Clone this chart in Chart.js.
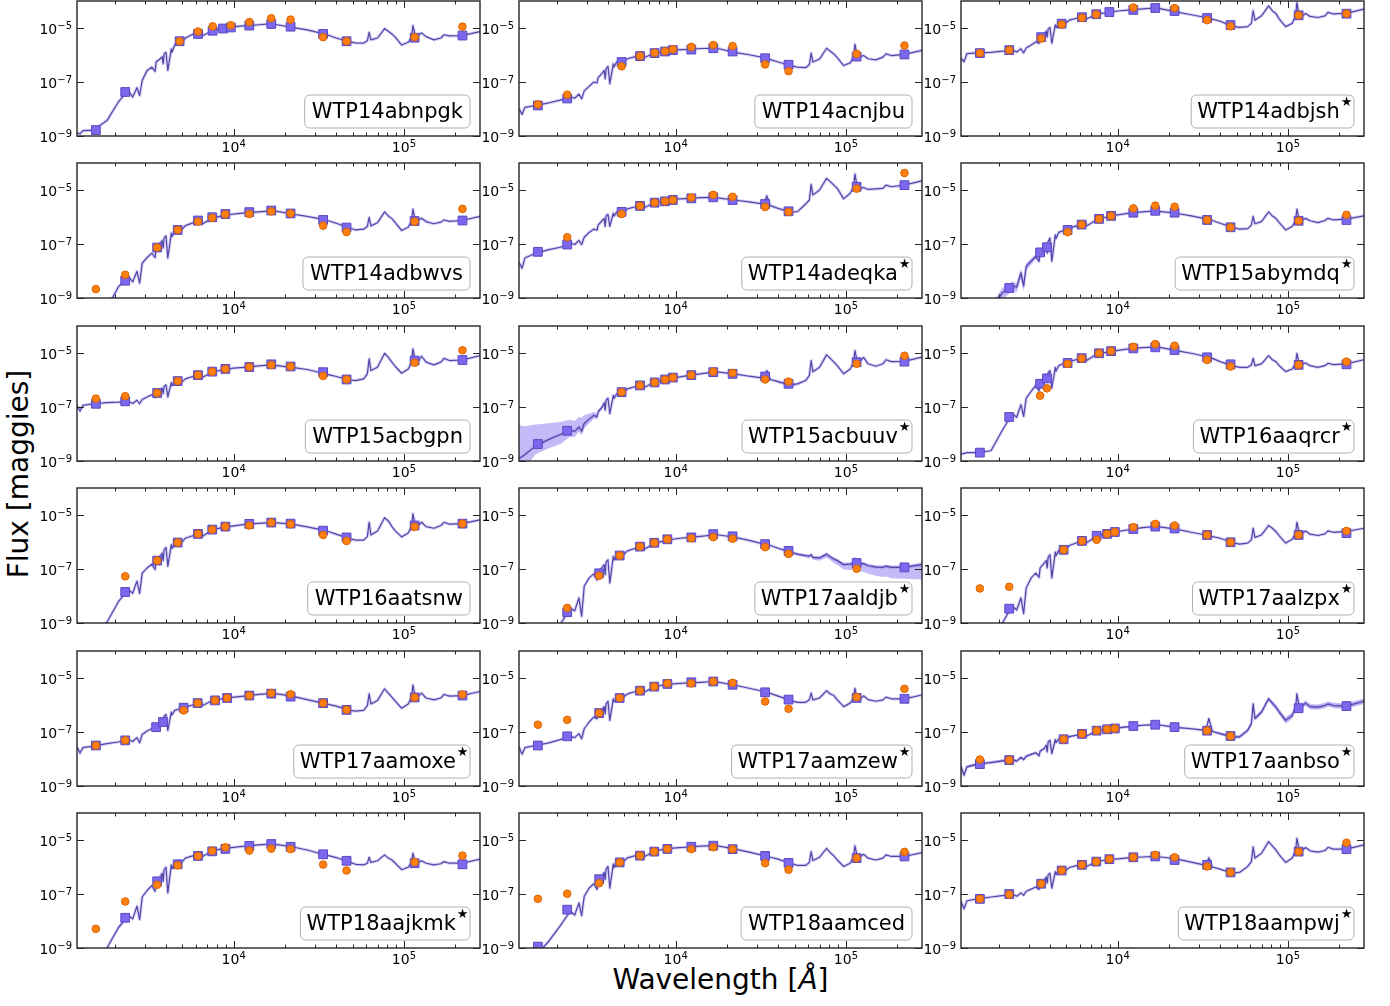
<!DOCTYPE html>
<html>
<head>
<meta charset="utf-8">
<title>SED fits</title>
<script src="https://cdn.jsdelivr.net/npm/chart.js@4.4.1/dist/chart.umd.min.js"></script>
<style>
  html, body { margin: 0; padding: 0; background: #fff; }
  #figure { position: relative; width: 1390px; height: 1006px; overflow: hidden; font-family: 'DejaVu Sans', sans-serif; }
  #figure canvas { position: absolute; }
  .axis-title { position: absolute; font-size: 28px; line-height: 1; white-space: nowrap; color: #000; }
  #ylab { left: 19px; top: 474px; transform: translate(-50%, -50%) rotate(-90deg); }
  #xlab { left: 720.5px; top: 966px; transform: translateX(-50%); }
</style>
</head>
<body>
<div id="figure">
  <div class="axis-title" id="ylab">Flux [maggies]</div>
  <div class="axis-title" id="xlab">Wavelength [<i>Å</i>]</div>
</div>
<script>
// ============================================================
// Data: wavelengths in Angstrom, fluxes as log10(maggies)
// ============================================================

// model spectrum wavelength grid (UV / 4000A break / optical-NIR / mid-IR)
const WAVE = [
  1200, 1250, 1300, 1500, 1800, 2100, 2400, 2550, 2700, 2800, 2900,
  3100, 3300, 3450, 3500, 3700, 3800, 3850, 3900, 4000, 4100, 4300, 4340, 4500, 4800, 4900,
  5200, 5800, 5900, 6500, 6563, 7500, 8500, 10000, 12000, 14000, 16500, 18000, 22000, 27000, 33000, 34300, 36000,
  40000, 47000, 52000, 58000, 61000, 62500, 64000, 70000, 77000, 81000, 85000, 89000, 97000, 106000,
  111000, 113000, 116000, 122000, 127000, 135000, 150000, 165000, 172000, 185000, 220000, 280000
];

// filter sets: GALEX FUV/NUV, optical, 2MASS JHKs, WISE W1-W4
const BANDS_PS1  = [1549, 2304, 3551, 4810, 6170, 7520, 8660, 9620, 12350, 16620, 21590, 33526, 46028, 115608, 220883];
const BANDS_SDSS = [1549, 2304, 3551, 4686, 6166, 7480, 8932, 12350, 16620, 21590, 33526, 46028, 115608, 220883];
const BANDS_SM   = [1549, 2304, 3500, 3840, 5075, 6138, 7767, 9145, 12350, 16620, 21590, 33526, 46028, 115608, 220883];

const X_MAJOR_TICKS = [1e4, 1e5];
const X_MINOR_TICKS = [2000, 3000, 4000, 5000, 6000, 7000, 8000, 9000,
  20000, 30000, 40000, 50000, 60000, 70000, 80000, 90000, 200000];
const Y_MAJOR_TICKS = [1e-9, 1e-7, 1e-5];

// --- WTP14abnpgk
const specAbnpgk = [
  -8.88, -8.92, -8.80, -8.78, -8.43, -7.74, -7.31, -7.56, -7.21, -7.50, -6.94,
  -6.57, -6.45, -6.61, -6.26, -6.14, -6.06, -6.33, -5.96, -5.90, -6.57, -5.77, -5.90, -5.63, -5.49, -5.56,
  -5.37, -5.22, -5.29, -5.17, -5.29, -5.10, -5.04, -4.95, -4.91, -4.88, -4.85, -4.88, -4.98, -5.07, -5.20, -5.23, -5.27,
  -5.37, -5.50, -5.55, -5.56, -5.47, -5.16, -5.44, -5.37, -5.02, -5.12, -5.22, -5.34, -5.63, -5.53,
  -5.34, -4.91, -5.22, -5.26, -5.18, -5.32, -5.44, -5.37, -5.25, -5.29, -5.28, -5.13
];
const obsAbnpgk = [null, null, null, -5.49, -5.13, -4.94, null, -4.90, -4.78, -4.64, -4.69, -5.34, -5.49, -5.34, -4.95];
const modAbnpgk = [-8.78, -7.37, null, -5.49, -5.22, -5.10, -5.02, -4.98, -4.91, -4.85, -4.95, -5.22, -5.49, -5.36, -5.28];

// --- WTP14acnjbu
const specAcnjbu = [
  -7.98, -8.20, -7.94, -7.87, -7.77, -7.67, -7.55, -7.60, -7.45, -7.62, -7.33,
  -7.16, -7.00, -7.03, -6.84, -6.67, -6.57, -6.88, -6.51, -6.42, -7.06, -6.33, -6.44, -6.26, -6.20, -6.26,
  -6.14, -6.06, -6.11, -5.99, -6.09, -5.93, -5.88, -5.81, -5.79, -5.76, -5.75, -5.77, -5.90, -5.99, -6.10, -6.13, -6.17,
  -6.26, -6.39, -6.45, -6.47, -6.35, -5.93, -6.26, -6.15, -5.75, -5.86, -5.96, -6.10, -6.39, -6.29,
  -6.08, -5.61, -5.96, -6.06, -6.02, -6.14, -6.18, -6.08, -5.96, -6.02, -5.98, -5.83
];
const obsAcnjbu = [-7.83, -7.47, null, -6.42, -6.04, -5.92, -5.86, -5.79, -5.70, -5.63, -5.67, -6.35, -6.60, -5.96, -5.65];
const modAcnjbu = [-7.87, -7.61, null, -6.26, -6.04, -5.93, -5.87, -5.82, -5.80, -5.75, -5.87, -6.12, -6.36, -6.06, -5.98];

// --- WTP14adbjsh
const specAdbjsh = [
  -6.12, -6.25, -5.95, -5.92, -5.90, -5.86, -5.81, -5.89, -5.77, -5.92, -5.74,
  -5.63, -5.52, -5.57, -5.39, -5.23, -5.12, -5.34, -5.04, -4.98, -5.56, -4.88, -4.99, -4.83, -4.77, -4.84,
  -4.71, -4.63, -4.68, -4.57, -4.67, -4.48, -4.44, -4.37, -4.33, -4.29, -4.26, -4.29, -4.40, -4.51, -4.61, -4.64, -4.67,
  -4.75, -4.93, -4.98, -4.95, -4.83, -4.36, -4.71, -4.55, -4.18, -4.36, -4.46, -4.67, -4.95, -4.83,
  -4.55, -4.06, -4.52, -4.55, -4.46, -4.57, -4.61, -4.55, -4.42, -4.48, -4.46, -4.30
];
const obsAdbjsh = [-5.93, -5.82, -5.39, -4.87, -4.62, -4.50, null, -4.24, null, -4.26, -4.71, -4.94, -4.53, -4.47];
const modAdbjsh = [-5.93, -5.82, -5.34, -4.84, -4.60, -4.49, -4.41, -4.33, -4.26, -4.37, -4.63, -4.89, -4.53, -4.47];

// --- WTP14adbwvs
const specAdbwvs = [
  -10.4, -10.3, -10.2, -9.90, -9.37, -8.59, -8.20, -8.40, -8.01, -8.45, -7.71,
  -7.50, -7.34, -7.50, -7.15, -6.97, -6.87, -7.15, -6.78, -6.70, -7.52, -6.60, -6.73, -6.51, -6.43, -6.50,
  -6.32, -6.21, -6.28, -6.13, -6.25, -6.05, -5.96, -5.89, -5.84, -5.81, -5.77, -5.79, -5.89, -5.98, -6.08, -6.11, -6.14,
  -6.23, -6.39, -6.48, -6.45, -6.35, -6.01, -6.33, -6.21, -5.81, -5.96, -6.06, -6.21, -6.50, -6.38,
  -6.14, -5.71, -6.07, -6.11, -6.05, -6.17, -6.25, -6.19, -6.11, -6.16, -6.13, -5.98
];
const obsAdbwvs = [-8.67, -8.14, -7.13, -6.48, -6.17, -6.03, -5.90, -5.89, -5.79, -5.87, -6.32, -6.56, -6.17, -5.70];
const modAdbwvs = [null, -8.36, -7.13, -6.48, -6.13, -6.01, -5.89, -5.82, -5.76, -5.87, -6.11, -6.39, -6.15, -6.13];

// --- WTP14adeqka
const specAdeqka = [
  -7.68, -7.90, -7.52, -7.34, -7.21, -7.12, -6.97, -7.02, -6.87, -7.02, -6.75,
  -6.57, -6.45, -6.49, -6.30, -6.13, -6.05, -6.35, -5.96, -5.90, -6.35, -5.86, -5.97, -5.82, -5.77, -5.83,
  -5.70, -5.62, -5.67, -5.55, -5.65, -5.47, -5.42, -5.34, -5.31, -5.28, -5.27, -5.30, -5.37, -5.44, -5.52, -5.22, -5.58,
  -5.68, -5.82, -5.80, -5.52, -5.37, -4.79, -5.18, -5.00, -4.57, -4.69, -4.82, -4.94, -5.33, -5.12,
  -4.88, -4.41, -4.82, -4.94, -4.91, -4.98, -4.96, -4.94, -4.82, -4.88, -4.82, -4.66
];
const obsAdeqka = [null, -6.75, null, -5.89, -5.59, -5.47, -5.42, -5.37, -5.28, -5.18, -5.25, -5.63, -5.81, -4.95, -4.37];
const modAdeqka = [-7.29, -7.02, null, -5.81, -5.59, -5.47, -5.42, -5.37, -5.31, -5.27, -5.37, -5.52, -5.79, -4.88, -4.82];

// --- WTP15abymdq
const specAbymdq = [
  -10.3, -10.2, -10.1, -9.80, -9.40, -8.81, -8.54, -8.60, -8.07, -8.55, -7.83,
  -7.64, -7.46, -7.64, -7.30, -7.15, -7.03, -7.34, -6.91, -6.78, -7.64, -6.66, -6.80, -6.57, -6.50, -6.58,
  -6.41, -6.32, -6.39, -6.21, -6.33, -6.11, -6.01, -5.92, -5.85, -5.81, -5.77, -5.80, -5.86, -5.96, -6.07, -6.10, -6.13,
  -6.23, -6.38, -6.45, -6.43, -6.30, -5.98, -6.25, -6.17, -5.81, -5.96, -6.05, -6.21, -6.48, -6.35,
  -6.13, -5.71, -6.05, -6.11, -6.05, -6.14, -6.21, -6.13, -6.05, -6.11, -6.08, -5.96
];
const upAbymdq = [
  0, 0, 0, 0.10, 0.15, 0.18, 0.15, 0.15, 0.15, 0.20, 0.12,
  0.10, 0.08, 0.07, 0.07, 0.06, 0.05, 0.06, 0.05, 0.04, 0.05, 0.03, 0.03, 0.02, 0.02, 0,
  0, 0, 0, 0, 0, 0, 0, 0, 0, 0, 0, 0, 0, 0, 0, 0, 0,
  0, 0, 0, 0, 0, 0, 0, 0, 0, 0, 0, 0, 0, 0, 0, 0, 0, 0, 0, 0, 0, 0, 0, 0, 0, 0
];
const downAbymdq = [
  0, 0, 0, 0.20, 0.25, 0.25, 0.20, 0.20, 0.18, 0.20, 0.15,
  0.12, 0.10, 0.08, 0.08, 0.07, 0.06, 0.06, 0.05, 0.04, 0.05, 0.03, 0.03, 0.02, 0.02, 0,
  0, 0, 0, 0, 0, 0, 0, 0, 0, 0, 0, 0, 0, 0, 0, 0, 0,
  0, 0, 0, 0, 0, 0, 0, 0, 0, 0, 0, 0, 0, 0, 0, 0, 0, 0, 0, 0, 0, 0, 0, 0, 0, 0
];
const obsAbymdq = [null, null, null, null, -6.56, -6.28, -6.07, -5.96, -5.68, -5.58, -5.62, -6.11, -6.38, -6.14, -5.92];
const modAbymdq = [null, -8.63, -7.31, -7.12, -6.48, -6.28, -6.07, -5.96, -5.84, -5.77, -5.84, -6.11, -6.38, -6.14, -6.11];

// --- WTP15acbgpn
const specAcbgpn = [
  -6.95, -7.15, -6.94, -6.88, -6.84, -6.82, -6.79, -6.87, -6.75, -6.88, -6.72,
  -6.63, -6.55, -6.65, -6.48, -6.39, -6.30, -6.51, -6.23, -6.18, -6.63, -6.10, -6.21, -6.06, -6.02, -6.09,
  -5.96, -5.86, -5.91, -5.80, -5.90, -5.71, -5.63, -5.56, -5.52, -5.48, -5.44, -5.47, -5.53, -5.61, -5.74, -5.77, -5.80,
  -5.87, -5.99, -6.02, -5.96, -5.77, -5.22, -5.65, -5.53, -5.01, -5.16, -5.34, -5.50, -5.75, -5.59,
  -5.34, -4.85, -5.22, -5.28, -5.12, -5.34, -5.44, -5.34, -5.20, -5.28, -5.26, -5.10
];
const obsAcbgpn = [-6.69, -6.60, -6.48, -6.04, -5.82, -5.69, -5.59, -5.52, -5.44, -5.50, -5.85, -5.98, -5.36, -4.90];
const modAcbgpn = [-6.88, -6.79, -6.48, -6.04, -5.82, -5.69, -5.59, -5.52, -5.42, -5.50, -5.71, -5.98, -5.28, -5.26];

// --- WTP15acbuuv
const specAcbuuv = [
  -8.91, -8.84, -8.76, -8.45, -8.20, -8.02, -7.86, -7.90, -7.74, -7.90, -7.61,
  -7.45, -7.31, -7.36, -7.18, -7.00, -6.84, -7.12, -6.75, -6.67, -7.25, -6.57, -6.68, -6.51, -6.45, -6.50,
  -6.33, -6.24, -6.29, -6.17, -6.27, -6.08, -6.00, -5.91, -5.83, -5.77, -5.71, -5.71, -5.77, -5.86, -5.93, -5.65, -5.98,
  -6.06, -6.18, -6.14, -6.02, -5.83, -5.28, -5.69, -5.53, -5.07, -5.20, -5.34, -5.47, -5.77, -5.59,
  -5.34, -4.91, -5.25, -5.28, -5.16, -5.40, -5.49, -5.40, -5.25, -5.32, -5.31, -5.15
];
const upAcbuuv = [
  1.24, 1.15, 1.05, 0.80, 0.60, 0.46, 0.39, 0.38, 0.37, 0.50, 0.30,
  0.20, 0.13, 0.10, 0.08, 0.05, 0.03, 0.03, 0.02, 0.02, 0.02, 0, 0, 0, 0, 0,
  0, 0, 0, 0, 0, 0, 0, 0, 0, 0, 0, 0, 0, 0, 0, 0, 0,
  0.02, 0.03, 0.03, 0, 0, 0, 0, 0, 0, 0, 0, 0, 0, 0, 0, 0, 0, 0, 0, 0, 0, 0, 0, 0, 0, 0
];
const downAcbuuv = [
  0.60, 0.55, 0.50, 0.30, 0.33, 0.35, 0.24, 0.21, 0.18, 0.15, 0.19,
  0.16, 0.12, 0.10, 0.09, 0.05, 0.03, 0.03, 0.02, 0.02, 0.02, 0, 0, 0, 0, 0,
  0, 0, 0, 0, 0, 0, 0, 0, 0, 0, 0, 0, 0, 0, 0, 0, 0,
  0.05, 0.06, 0.06, 0.03, 0, 0, 0, 0, 0, 0, 0, 0, 0, 0, 0, 0, 0, 0, 0, 0, 0, 0, 0, 0, 0, 0
];
const obsAcbuuv = [null, null, null, -6.45, -6.20, -6.09, -5.98, -5.91, -5.82, -5.69, -5.74, -5.98, -6.06, -5.40, -5.10];
const modAcbuuv = [-8.37, -7.88, null, -6.45, -6.20, -6.09, -5.98, -5.91, -5.82, -5.71, -5.77, -5.87, -6.14, -5.34, -5.32];

// --- WTP16aaqrcr
const specAaqrcr = [
  -8.75, -8.72, -8.69, -8.69, -8.62, -7.86, -7.25, -7.38, -6.91, -7.35, -6.67,
  -6.42, -6.20, -6.41, -6.08, -5.93, -5.83, -6.08, -5.74, -5.65, -6.30, -5.53, -5.67, -5.47, -5.39, -5.47,
  -5.32, -5.23, -5.30, -5.16, -5.28, -5.05, -4.98, -4.90, -4.84, -4.80, -4.78, -4.80, -4.91, -5.01, -5.13, -5.16, -5.20,
  -5.32, -5.47, -5.53, -5.53, -5.44, -5.20, -5.47, -5.40, -5.10, -5.25, -5.32, -5.47, -5.69, -5.59,
  -5.40, -5.01, -5.34, -5.40, -5.37, -5.47, -5.53, -5.47, -5.38, -5.43, -5.40, -5.25
];
const obsAaqrcr = [null, null, -6.58, -6.31, -5.40, -5.20, -5.01, -4.93, -4.77, -4.67, -4.73, -5.26, -5.50, -5.44, -5.32];
const modAaqrcr = [-8.69, -7.37, -6.14, -5.94, -5.37, -5.19, -5.01, -4.93, -4.83, -4.79, -4.89, -5.16, -5.42, -5.44, -5.42];

// --- WTP16aatsnw
const specAatsnw = [
  -10.0, -9.95, -9.90, -9.50, -8.97, -8.21, -7.76, -7.90, -7.45, -7.90, -7.15,
  -6.96, -6.82, -7.02, -6.69, -6.53, -6.41, -6.69, -6.29, -6.20, -6.90, -6.10, -6.24, -6.04, -5.96, -6.04,
  -5.86, -5.76, -5.83, -5.67, -5.79, -5.55, -5.47, -5.40, -5.34, -5.31, -5.28, -5.29, -5.34, -5.44, -5.55, -5.58, -5.61,
  -5.71, -5.86, -5.93, -5.93, -5.80, -5.27, -5.74, -5.59, -5.10, -5.22, -5.43, -5.59, -5.81, -5.67,
  -5.43, -4.96, -5.31, -5.37, -5.27, -5.43, -5.49, -5.39, -5.27, -5.34, -5.32, -5.18
];
const obsAatsnw = [null, -7.27, -6.69, -6.02, -5.70, -5.54, -5.43, -5.39, -5.28, -5.34, -5.74, -5.96, -5.44, -5.32];
const modAatsnw = [null, -7.85, -6.69, -6.02, -5.70, -5.54, -5.43, -5.33, -5.28, -5.32, -5.58, -5.83, -5.39, -5.32];

// --- WTP17aaldjb
const specAaldjb = [
  -10.6, -10.5, -10.4, -10.0, -9.50, -9.05, -8.44, -8.55, -8.07, -8.75, -7.64,
  -7.33, -7.18, -7.41, -7.09, -6.94, -6.84, -7.21, -6.74, -6.66, -7.52, -6.53, -6.67, -6.47, -6.41, -6.49,
  -6.33, -6.23, -6.30, -6.14, -6.26, -6.06, -5.96, -5.88, -5.83, -5.79, -5.74, -5.74, -5.82, -5.94, -6.08, -6.10, -6.13,
  -6.23, -6.37, -6.45, -6.50, -6.52, -6.47, -6.57, -6.59, -6.45, -6.55, -6.63, -6.69, -6.84, -6.82,
  -6.78, -6.62, -6.78, -6.82, -6.80, -6.88, -6.93, -6.94, -6.90, -6.94, -6.94, -6.84
];
const upAaldjb = [
  0, 0, 0, 0, 0, 0, 0, 0, 0, 0, 0,
  0, 0, 0, 0, 0, 0, 0, 0, 0, 0, 0, 0, 0, 0, 0,
  0, 0, 0, 0, 0, 0, 0, 0, 0, 0, 0, 0, 0, 0, 0, 0, 0,
  0.03, 0.03, 0.04, 0.04, 0.05, 0.05, 0.05, 0.05, 0.06, 0.06, 0.06, 0.06, 0.07, 0.07,
  0.07, 0.07, 0.07, 0.07, 0.07, 0.07, 0.07, 0.07, 0.07, 0.07, 0.07, 0.08
];
const downAaldjb = [
  0, 0, 0, 0, 0, 0, 0, 0, 0, 0, 0,
  0, 0, 0, 0, 0, 0, 0, 0, 0, 0, 0, 0, 0, 0, 0,
  0, 0, 0, 0, 0, 0, 0, 0, 0, 0, 0, 0, 0, 0, 0, 0, 0,
  0.03, 0.05, 0.06, 0.07, 0.08, 0.08, 0.09, 0.10, 0.12, 0.13, 0.15, 0.16, 0.18, 0.22,
  0.25, 0.30, 0.27, 0.28, 0.30, 0.30, 0.32, 0.36, 0.38, 0.40, 0.42, 0.55
];
const obsAaldjb = [null, -8.44, -7.25, -6.50, -6.17, -6.03, -5.90, -5.86, -5.82, -5.88, -6.19, -6.44, -6.99, null];
const modAaldjb = [null, -8.60, -7.16, -6.50, -6.17, -6.03, -5.90, -5.83, -5.71, -5.79, -6.08, -6.33, -6.78, -6.94];

// --- WTP17aalzpx
const specAalzpx = [
  -10.5, -10.4, -10.3, -9.90, -9.50, -9.00, -8.37, -8.52, -8.07, -8.65, -7.70,
  -7.33, -7.15, -7.31, -6.96, -6.78, -6.68, -6.96, -6.57, -6.47, -7.33, -6.37, -6.51, -6.31, -6.23, -6.31,
  -6.13, -6.02, -6.09, -5.91, -6.03, -5.79, -5.70, -5.61, -5.53, -5.47, -5.43, -5.45, -5.52, -5.64, -5.74, -5.77, -5.80,
  -5.86, -6.02, -6.08, -6.04, -5.92, -5.49, -5.83, -5.74, -5.39, -5.49, -5.61, -5.77, -6.04, -5.90,
  -5.67, -5.27, -5.61, -5.67, -5.59, -5.71, -5.76, -5.70, -5.59, -5.64, -5.61, -5.49
];
const obsAalzpx = [-7.72, -7.66, null, -6.29, -5.96, -5.92, -5.70, -5.63, -5.45, -5.33, -5.39, -5.74, -6.01, -5.74, -5.59];
const modAalzpx = [null, -8.47, null, -6.29, -5.96, -5.77, -5.70, -5.63, -5.52, -5.43, -5.50, -5.74, -6.01, -5.74, -5.67];

// --- WTP17aamoxe
const specAamoxe = [
  -7.55, -7.78, -7.58, -7.52, -7.43, -7.37, -7.28, -7.35, -7.21, -7.40, -7.09,
  -6.96, -6.88, -6.96, -6.79, -6.67, -6.55, -6.76, -6.42, -6.35, -6.94, -6.26, -6.37, -6.20, -6.14, -6.21,
  -6.08, -5.99, -6.04, -5.92, -6.02, -5.83, -5.77, -5.71, -5.66, -5.61, -5.58, -5.59, -5.67, -5.80, -5.92, -5.95, -5.98,
  -6.04, -6.18, -6.23, -6.20, -6.02, -5.59, -5.96, -5.83, -5.40, -5.56, -5.71, -5.86, -6.12, -5.96,
  -5.71, -5.26, -5.63, -5.67, -5.56, -5.74, -5.81, -5.74, -5.61, -5.67, -5.65, -5.50
];
const obsAamoxe = [-7.50, -7.31, null, null, -6.20, -5.93, -5.83, -5.74, -5.65, -5.56, -5.60, -5.93, -6.18, -5.72, -5.61];
const modAamoxe = [-7.50, -7.31, -6.82, -6.63, -6.10, -5.93, -5.83, -5.74, -5.65, -5.58, -5.69, -5.93, -6.18, -5.72, -5.65];

// --- WTP17aamzew
const specAamzew = [
  -7.55, -7.82, -7.58, -7.50, -7.40, -7.28, -7.16, -7.21, -7.06, -7.25, -6.88,
  -6.63, -6.45, -6.51, -6.33, -6.18, -6.06, -6.33, -5.96, -5.86, -6.57, -5.77, -5.88, -5.74, -5.65, -5.72,
  -5.59, -5.50, -5.55, -5.42, -5.52, -5.32, -5.26, -5.21, -5.18, -5.16, -5.13, -5.16, -5.26, -5.38, -5.50, -5.53, -5.57,
  -5.67, -5.83, -5.90, -5.90, -5.81, -5.56, -5.81, -5.74, -5.47, -5.59, -5.65, -5.81, -6.06, -5.93,
  -5.74, -5.38, -5.71, -5.77, -5.66, -5.80, -5.86, -5.81, -5.71, -5.77, -5.77, -5.63
];
const obsAamzew = [-6.73, -6.55, -6.30, -5.74, -5.47, -5.32, -5.20, -5.20, -5.13, -5.18, -5.87, -6.14, -5.71, -5.40];
const modAamzew = [-7.50, -7.16, -6.30, -5.74, -5.47, -5.32, -5.22, -5.16, -5.13, -5.25, -5.53, -5.80, -5.74, -5.77];

// --- WTP17aanbso
const specAanbso = [
  -8.28, -8.60, -8.29, -8.19, -8.13, -8.07, -8.02, -8.08, -7.94, -8.02, -7.90,
  -7.83, -7.77, -7.88, -7.71, -7.61, -7.49, -7.74, -7.37, -7.31, -7.80, -7.28, -7.39, -7.26, -7.22, -7.29,
  -7.17, -7.11, -7.16, -7.05, -7.15, -6.96, -6.91, -6.85, -6.79, -6.75, -6.73, -6.75, -6.83, -6.88, -6.94, -6.50, -6.98,
  -7.06, -7.18, -7.18, -6.94, -6.69, -5.96, -6.50, -6.26, -5.77, -5.93, -6.08, -6.26, -6.57, -6.39,
  -6.08, -5.59, -6.02, -6.02, -5.93, -6.06, -6.08, -6.02, -5.96, -6.02, -6.04, -5.86
];
const bandAanbso = [
  0.05, 0.05, 0.05, 0.05, 0.05, 0.05, 0.05, 0.05, 0.05, 0.05, 0.05,
  0.04, 0.04, 0.04, 0.04, 0.04, 0.04, 0.04, 0.04, 0.04, 0.04, 0.04, 0.04, 0.04, 0.04, 0.04,
  0.03, 0.03, 0.03, 0.03, 0.03, 0.03, 0.03, 0.03, 0.03, 0.03, 0.03, 0.03, 0.03, 0.03, 0.03, 0.03, 0.03,
  0.04, 0.05, 0.06, 0.07, 0.08, 0.08, 0.08, 0.08, 0.08, 0.09, 0.10, 0.10, 0.12, 0.12,
  0.10, 0.10, 0.10, 0.10, 0.10, 0.10, 0.10, 0.10, 0.10, 0.10, 0.10, 0.10
];
const obsAanbso = [-8.02, -8.04, null, -7.27, -7.07, -6.95, -6.90, -6.87, null, null, null, -6.95, -7.15, null, null];
const modAanbso = [-8.19, -8.04, null, -7.27, -7.07, -6.95, -6.90, -6.87, -6.78, -6.73, -6.82, -6.95, -7.15, -6.12, -6.04];

// --- WTP18aajkmk
const specAajkmk = [
  -10.1, -10.0, -9.90, -9.60, -9.00, -8.25, -7.80, -7.92, -7.45, -7.95, -7.11,
  -6.87, -6.69, -6.90, -6.57, -6.37, -6.23, -6.53, -6.10, -6.01, -6.96, -5.92, -6.06, -5.86, -5.77, -5.85,
  -5.67, -5.58, -5.65, -5.49, -5.61, -5.40, -5.33, -5.27, -5.22, -5.18, -5.15, -5.17, -5.25, -5.37, -5.52, -5.55, -5.58,
  -5.65, -5.80, -5.90, -5.92, -5.86, -5.64, -5.83, -5.77, -5.55, -5.67, -5.74, -5.86, -6.10, -6.01,
  -5.83, -5.49, -5.77, -5.82, -5.77, -5.86, -5.92, -5.88, -5.80, -5.86, -5.86, -5.71
];
const obsAajkmk = [-8.29, -7.28, -6.66, -5.94, -5.59, -5.40, -5.27, -5.39, -5.32, -5.34, -5.91, -6.13, -5.82, -5.58];
const modAajkmk = [null, -7.88, -6.53, -5.90, -5.59, -5.42, -5.33, -5.22, -5.15, -5.25, -5.53, -5.77, -5.86, -5.90];

// --- WTP18aamced
const specAamced = [
  -9.70, -9.60, -9.50, -9.30, -8.74, -8.17, -7.64, -7.78, -7.33, -7.80, -7.09,
  -6.78, -6.62, -6.83, -6.50, -6.33, -6.20, -6.47, -6.08, -5.98, -6.78, -5.88, -6.02, -5.82, -5.74, -5.82,
  -5.66, -5.58, -5.65, -5.49, -5.61, -5.42, -5.34, -5.29, -5.26, -5.23, -5.21, -5.23, -5.33, -5.45, -5.58, -5.61, -5.64,
  -5.71, -5.86, -5.94, -5.94, -5.83, -5.43, -5.76, -5.64, -5.31, -5.47, -5.59, -5.74, -5.98, -5.86,
  -5.61, -5.22, -5.55, -5.61, -5.53, -5.67, -5.74, -5.67, -5.55, -5.61, -5.61, -5.47
];
const obsAamced = [-7.18, -6.99, -6.60, -5.83, -5.58, -5.43, -5.33, -5.34, -5.27, -5.34, -5.86, -6.10, -5.67, -5.44];
const modAamced = [-8.95, -7.58, -6.45, -5.83, -5.58, -5.43, -5.33, -5.25, -5.21, -5.34, -5.59, -5.85, -5.67, -5.61];

// --- WTP18aampwj
const specAampwj = [
  -7.28, -7.55, -7.25, -7.18, -7.11, -7.06, -7.01, -7.08, -6.96, -7.05, -6.90,
  -6.82, -6.74, -6.83, -6.66, -6.50, -6.37, -6.60, -6.29, -6.23, -6.78, -6.17, -6.28, -6.13, -6.08, -6.15,
  -6.02, -5.94, -5.99, -5.88, -5.98, -5.80, -5.74, -5.70, -5.65, -5.63, -5.61, -5.63, -5.70, -5.82, -5.94, -5.66, -6.00,
  -6.08, -6.23, -6.20, -5.98, -5.80, -5.25, -5.67, -5.49, -5.06, -5.22, -5.37, -5.55, -5.83, -5.67,
  -5.39, -4.94, -5.31, -5.37, -5.28, -5.40, -5.45, -5.39, -5.27, -5.34, -5.34, -5.18
];
const obsAampwj = [-7.18, -7.02, -6.62, -6.13, -5.92, -5.80, -5.71, -5.64, -5.55, -5.64, -5.98, -6.20, -5.43, -5.10];
const modAampwj = [-7.18, -7.00, -6.62, -6.13, -5.92, -5.80, -5.71, -5.64, -5.61, -5.74, -5.92, -6.20, -5.43, -5.34];

// panels in reading order, three per row
const PANELS = [
  { name: 'WTP14abnpgk', star: false, bands: BANDS_PS1,  spec: specAbnpgk, obs: obsAbnpgk, mod: modAbnpgk },
  { name: 'WTP14acnjbu', star: false, bands: BANDS_PS1,  spec: specAcnjbu, obs: obsAcnjbu, mod: modAcnjbu },
  { name: 'WTP14adbjsh', star: true,  bands: BANDS_SDSS, spec: specAdbjsh, obs: obsAdbjsh, mod: modAdbjsh },
  { name: 'WTP14adbwvs', star: false, bands: BANDS_SDSS, spec: specAdbwvs, obs: obsAdbwvs, mod: modAdbwvs },
  { name: 'WTP14adeqka', star: true,  bands: BANDS_PS1,  spec: specAdeqka, obs: obsAdeqka, mod: modAdeqka },
  { name: 'WTP15abymdq', star: true,  bands: BANDS_SM,   spec: specAbymdq, obs: obsAbymdq, mod: modAbymdq, up: upAbymdq, down: downAbymdq },
  { name: 'WTP15acbgpn', star: false, bands: BANDS_SDSS, spec: specAcbgpn, obs: obsAcbgpn, mod: modAcbgpn },
  { name: 'WTP15acbuuv', star: true,  bands: BANDS_PS1,  spec: specAcbuuv, obs: obsAcbuuv, mod: modAcbuuv, up: upAcbuuv, down: downAcbuuv },
  { name: 'WTP16aaqrcr', star: true,  bands: BANDS_SM,   spec: specAaqrcr, obs: obsAaqrcr, mod: modAaqrcr },
  { name: 'WTP16aatsnw', star: false, bands: BANDS_SDSS, spec: specAatsnw, obs: obsAatsnw, mod: modAatsnw },
  { name: 'WTP17aaldjb', star: true,  bands: BANDS_SDSS, spec: specAaldjb, obs: obsAaldjb, mod: modAaldjb, up: upAaldjb, down: downAaldjb },
  { name: 'WTP17aalzpx', star: true,  bands: BANDS_PS1,  spec: specAalzpx, obs: obsAalzpx, mod: modAalzpx },
  { name: 'WTP17aamoxe', star: true,  bands: BANDS_SM,   spec: specAamoxe, obs: obsAamoxe, mod: modAamoxe },
  { name: 'WTP17aamzew', star: true,  bands: BANDS_SDSS, spec: specAamzew, obs: obsAamzew, mod: modAamzew },
  { name: 'WTP17aanbso', star: true,  bands: BANDS_PS1,  spec: specAanbso, obs: obsAanbso, mod: modAanbso, up: bandAanbso, down: bandAanbso },
  { name: 'WTP18aajkmk', star: true,  bands: BANDS_SDSS, spec: specAajkmk, obs: obsAajkmk, mod: modAajkmk },
  { name: 'WTP18aamced', star: false, bands: BANDS_SDSS, spec: specAamced, obs: obsAamced, mod: modAamced },
  { name: 'WTP18aampwj', star: true,  bands: BANDS_SDSS, spec: specAampwj, obs: obsAampwj, mod: modAampwj }
];

// ============================================================
// Layout and styles
// ============================================================

const COL_X = [77, 519, 961];
const ROW_Y = [1, 163, 326, 488, 651, 813];
const PANEL_W = 403;
const PANEL_H = 135;
const PAD = { left: 62, top: 4, right: 6, bottom: 26 };

const X_MIN = 1200, X_MAX = 2.8e5;
const Y_MIN = 1e-9, Y_MAX = 1e-4;

const LINE_COLOR = 'rgb(82, 70, 165)';
const HALO_COLOR = 'rgba(140, 125, 235, 0.35)';
const BAND_COLOR = 'rgba(123, 104, 238, 0.45)';
const SQUARE_FILL = '#7b68ee';
const SQUARE_EDGE = '#5a48c0';
const DOT_FILL = '#ff800e';
const DOT_EDGE = '#d96200';
const AXIS_COLOR = '#262626';
const FONT = '"DejaVu Sans"';

Chart.defaults.font.family = 'DejaVu Sans';

// ============================================================
// Drawing helpers
// ============================================================

// "10" with a raised exponent, like a matplotlib log-axis label
function powerLabel(ctx, value, x, baseline, align) {
  const exp = Math.round(Math.log10(value));
  const sup = exp < 0 ? '\u2212' + (-exp) : String(exp);
  ctx.font = '14px ' + FONT;
  const wBase = ctx.measureText('10').width;
  ctx.font = '10px ' + FONT;
  const wSup = ctx.measureText(sup).width;
  const left = align === 'right' ? x - wBase - wSup : x - (wBase + wSup) / 2;
  ctx.textAlign = 'left';
  ctx.textBaseline = 'alphabetic';
  ctx.font = '14px ' + FONT;
  ctx.fillText('10', left, baseline);
  ctx.font = '10px ' + FONT;
  ctx.fillText(sup, left + wBase, baseline - 5.5);
}

function roundedRect(ctx, x, y, w, h, r) {
  ctx.beginPath();
  ctx.moveTo(x + r, y);
  ctx.arcTo(x + w, y, x + w, y + h, r);
  ctx.arcTo(x + w, y + h, x, y + h, r);
  ctx.arcTo(x, y + h, x, y, r);
  ctx.arcTo(x, y, x + w, y, r);
  ctx.closePath();
}

// object name in a rounded box at the lower right of the axes
function drawNameBox(ctx, area, name, starred) {
  ctx.font = '21px ' + FONT;
  const textW = ctx.measureText(name).width;
  let starW = 0;
  if (starred) {
    ctx.font = '13px ' + FONT;
    starW = ctx.measureText('\u2605').width + 1;
  }
  const padL = starred ? 6 : 7;
  const padR = starred ? 1.5 : 7;
  const boxW = padL + textW + starW + padR;
  const boxH = 33;
  const right = area.right - 10;
  const bottom = area.bottom - 8;
  const left = right - boxW;
  roundedRect(ctx, left, bottom - boxH, boxW, boxH, 5);
  ctx.fillStyle = 'rgba(255, 255, 255, 0.8)';
  ctx.fill();
  ctx.lineWidth = 1;
  ctx.strokeStyle = '#b0b0b0';
  ctx.stroke();

  const baseline = bottom - 10.5;
  ctx.fillStyle = '#000';
  ctx.textAlign = 'left';
  ctx.textBaseline = 'alphabetic';
  ctx.font = '21px ' + FONT;
  ctx.fillText(name, left + padL, baseline);
  if (starred) {
    ctx.font = '13px ' + FONT;
    ctx.textBaseline = 'middle';
    ctx.fillText('\u2605', left + padL + textW + 1, baseline - 14.5);
  }
}

// frame, inward ticks on all sides, tick labels and the name box
const sedFrame = {
  id: 'sedFrame',
  afterDraw(chart, args, opts) {
    const ctx = chart.ctx;
    const a = chart.chartArea;
    const xs = chart.scales.x;
    const ys = chart.scales.y;
    ctx.save();

    ctx.strokeStyle = AXIS_COLOR;
    ctx.lineWidth = 1;
    ctx.beginPath();
    const tickX = (v, len) => {
      const px = Math.round(xs.getPixelForValue(v)) + 0.5;
      ctx.moveTo(px, a.bottom); ctx.lineTo(px, a.bottom - len);
      ctx.moveTo(px, a.top); ctx.lineTo(px, a.top + len);
    };
    X_MINOR_TICKS.forEach(v => tickX(v, 3.5));
    X_MAJOR_TICKS.forEach(v => tickX(v, 7));
    Y_MAJOR_TICKS.forEach(v => {
      const py = Math.round(ys.getPixelForValue(v)) + 0.5;
      ctx.moveTo(a.left, py); ctx.lineTo(a.left + 7, py);
      ctx.moveTo(a.right, py); ctx.lineTo(a.right - 7, py);
    });
    ctx.stroke();

    ctx.lineWidth = 1.4;
    ctx.strokeRect(a.left, a.top, a.right - a.left, a.bottom - a.top);

    ctx.fillStyle = '#000';
    X_MAJOR_TICKS.forEach(v => powerLabel(ctx, v, xs.getPixelForValue(v), a.bottom + 16, 'center'));
    Y_MAJOR_TICKS.forEach(v => powerLabel(ctx, v, a.left - 5, ys.getPixelForValue(v) + 6, 'right'));

    drawNameBox(ctx, a, opts.name, opts.starred);
    ctx.restore();
  }
};

function toPoints(waves, logs) {
  const pts = [];
  waves.forEach((w, i) => {
    if (logs[i] !== null) pts.push({ x: w, y: Math.pow(10, logs[i]) });
  });
  return pts;
}

// ============================================================
// Build the 6 x 3 grid of panels
// ============================================================

const fig = document.getElementById('figure');

PANELS.forEach((p, k) => {
  const col = k % 3;
  const row = Math.floor(k / 3);
  const canvas = document.createElement('canvas');
  canvas.width = PAD.left + PANEL_W + PAD.right;
  canvas.height = PAD.top + PANEL_H + PAD.bottom;
  canvas.style.left = (COL_X[col] - PAD.left) + 'px';
  canvas.style.top = (ROW_Y[row] - PAD.top) + 'px';
  fig.appendChild(canvas);

  const spectrum = toPoints(WAVE, p.spec);

  // Chart.js paints the first dataset last, so the list runs top to bottom
  const datasets = [
    {
      data: toPoints(p.bands, p.obs),
      showLine: false,
      pointStyle: 'circle',
      pointRadius: 3.8,
      pointBackgroundColor: DOT_FILL,
      pointBorderColor: DOT_EDGE,
      pointBorderWidth: 1
    },
    {
      data: toPoints(p.bands, p.mod),
      showLine: false,
      pointStyle: 'rect',
      pointRadius: 6.2,
      pointBackgroundColor: SQUARE_FILL,
      pointBorderColor: SQUARE_EDGE,
      pointBorderWidth: 1
    },
    {
      data: spectrum,
      borderColor: LINE_COLOR,
      borderWidth: 1.2,
      pointRadius: 0,
      tension: 0,
      borderJoinStyle: 'round'
    },
    {
      data: spectrum,
      borderColor: HALO_COLOR,
      borderWidth: 3.2,
      pointRadius: 0,
      tension: 0,
      borderJoinStyle: 'round'
    }
  ];

  if (p.up) {
    const hi = p.spec.map((v, i) => v + p.up[i]);
    const lo = p.spec.map((v, i) => v - p.down[i]);
    datasets.push({
      data: toPoints(WAVE, hi),
      borderWidth: 0,
      pointRadius: 0,
      fill: false
    });
    datasets.push({
      data: toPoints(WAVE, lo),
      borderWidth: 0,
      pointRadius: 0,
      fill: '-1',
      backgroundColor: BAND_COLOR
    });
  }

  new Chart(canvas, {
    type: 'line',
    data: { datasets },
    options: {
      responsive: false,
      animation: false,
      devicePixelRatio: 1,
      events: [],
      layout: { padding: PAD, autoPadding: false },
      plugins: {
        legend: { display: false },
        tooltip: { enabled: false },
        sedFrame: { name: p.name, starred: p.star }
      },
      scales: {
        x: { type: 'logarithmic', min: X_MIN, max: X_MAX, bounds: 'data', display: false },
        y: { type: 'logarithmic', min: Y_MIN, max: Y_MAX, bounds: 'data', display: false }
      }
    },
    plugins: [sedFrame]
  });
});
</script>
</body>
</html>
